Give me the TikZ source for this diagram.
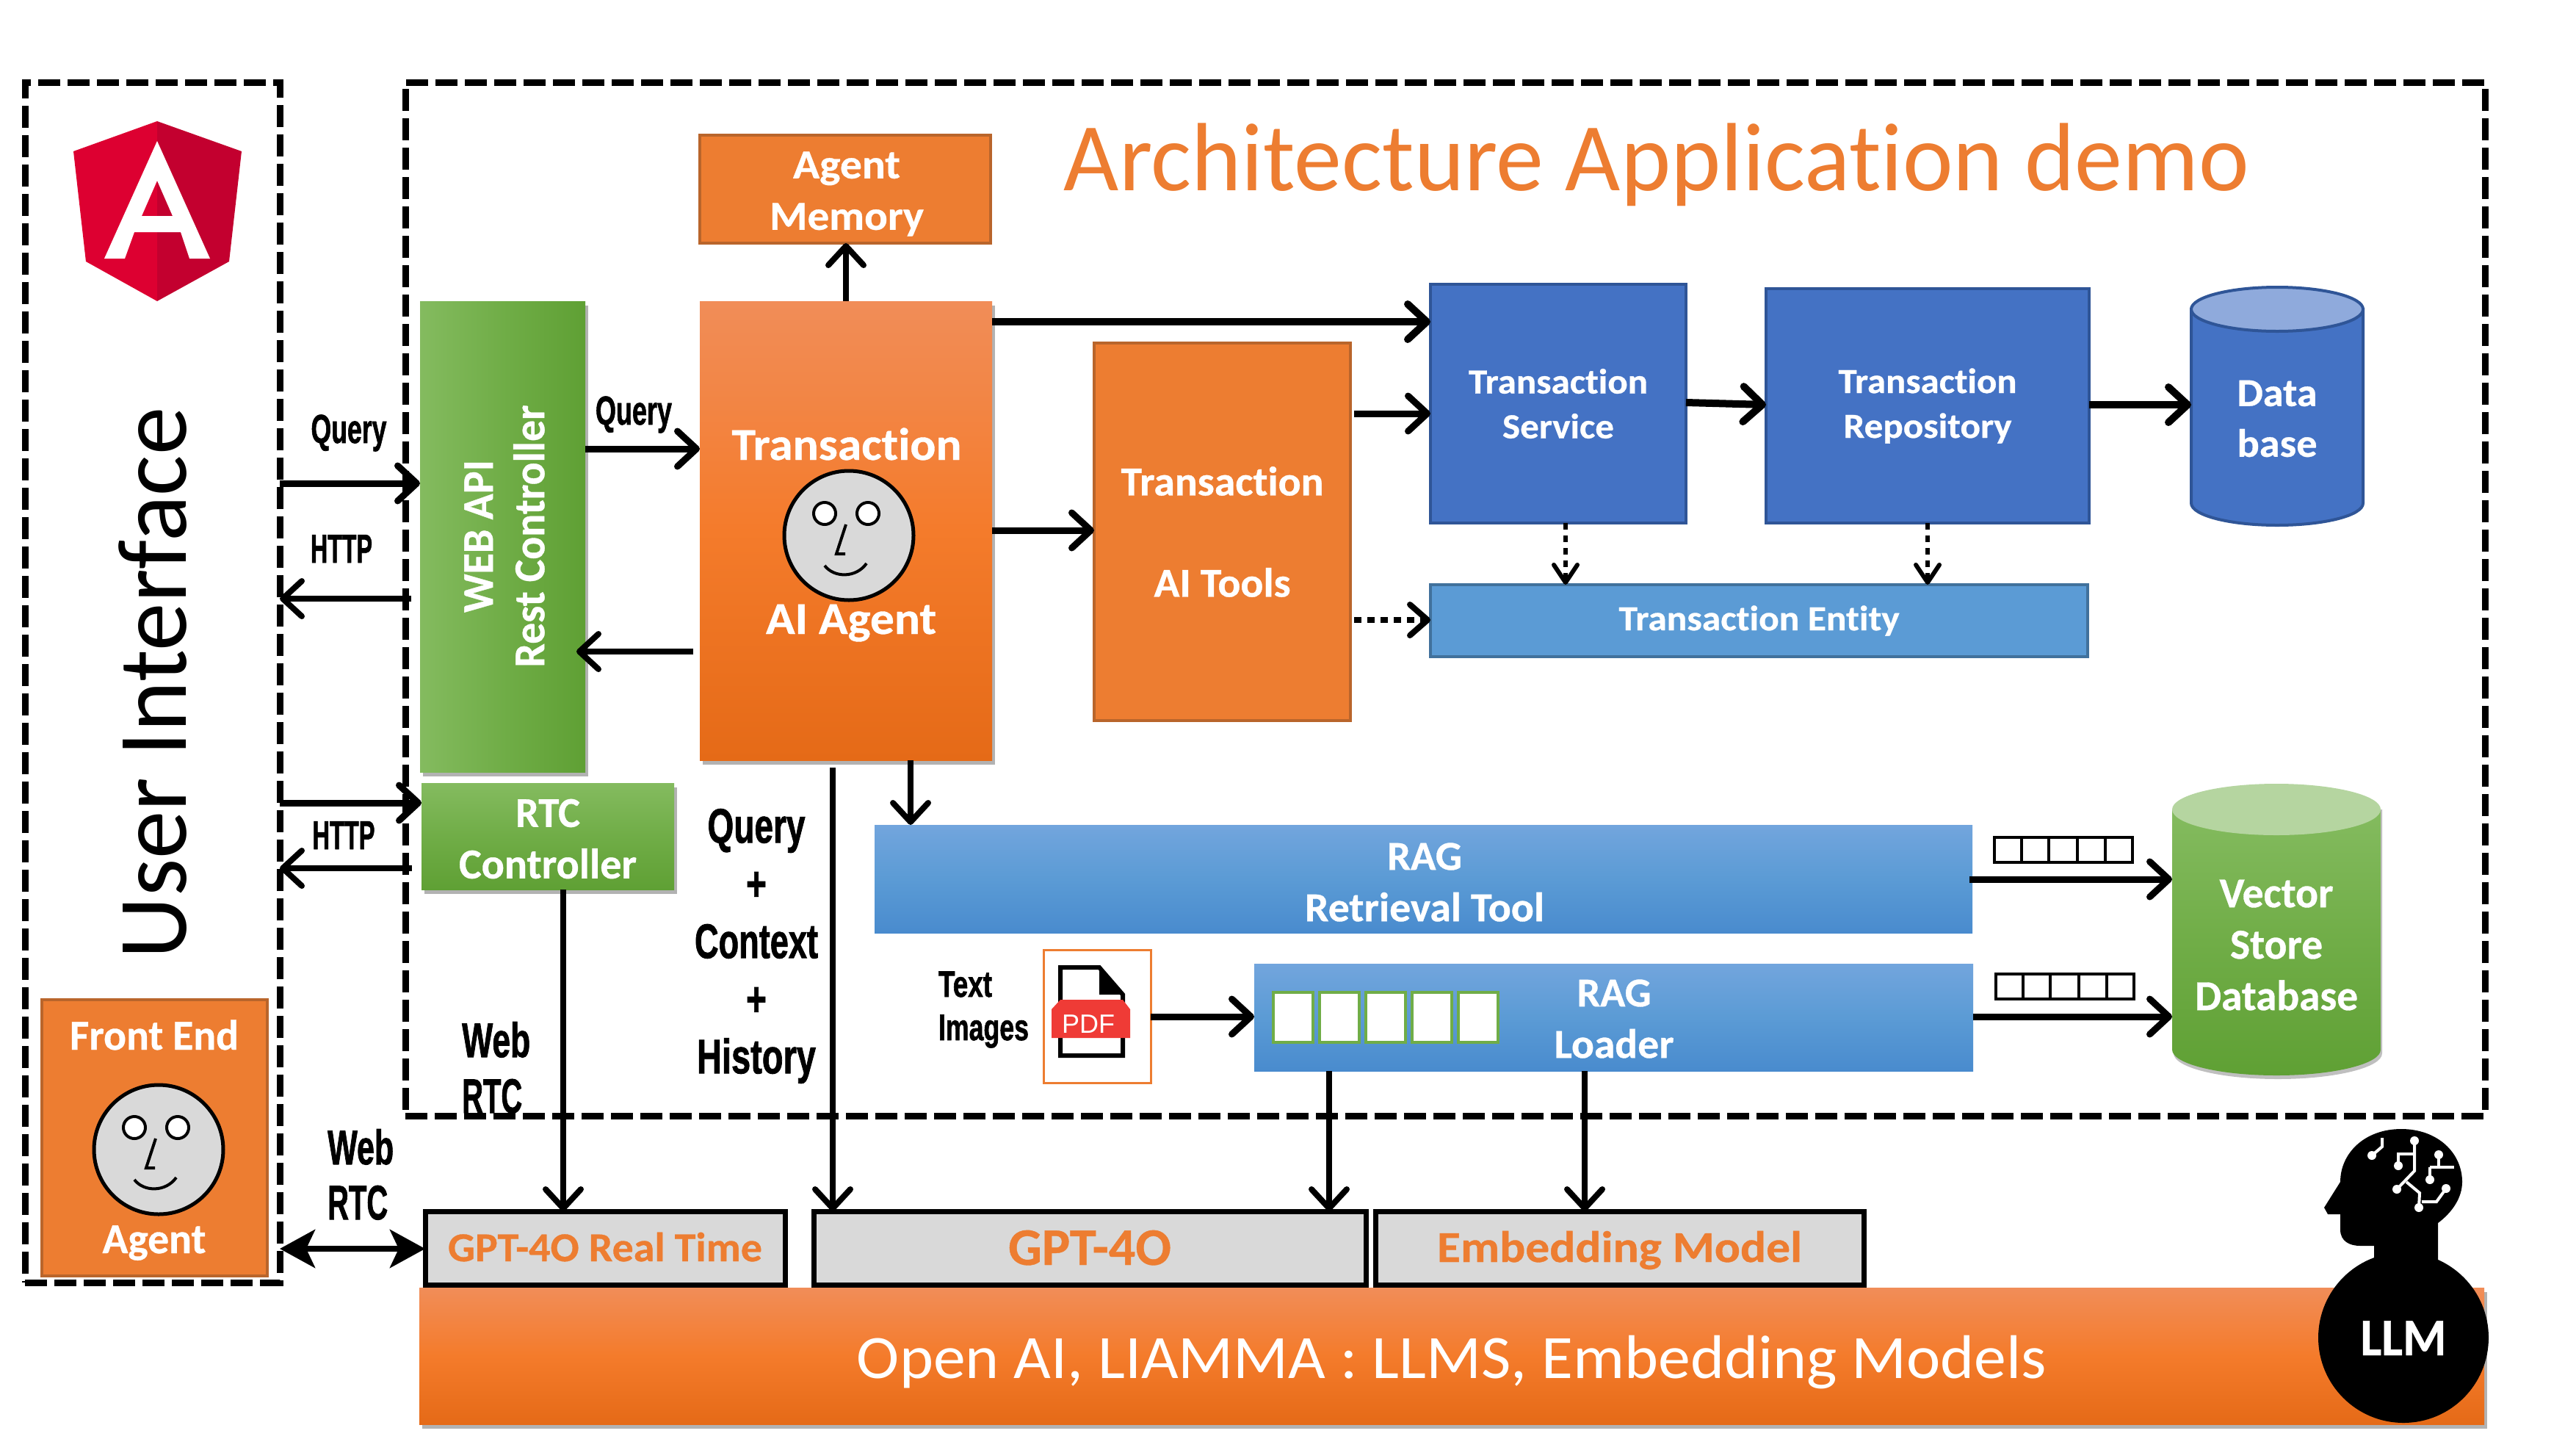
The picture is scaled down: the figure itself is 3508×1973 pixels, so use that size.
\documentclass[tikz,border=0pt]{standalone}
\usepackage{fontspec,graphicx}
\setmainfont{Carlito}[Ligatures=NoCommon,BoldFeatures={FakeBold=0.6}]
\newfontfamily\cond{Liberation Sans}[BoldFeatures={FakeBold=1.5}]
\usetikzlibrary{arrows.meta,shadows,calc}
\definecolor{ora}{HTML}{ED7D31}
\definecolor{orad}{HTML}{B9652B}
\definecolor{oT}{HTML}{F18D58}
\definecolor{oM}{HTML}{F47B2B}
\definecolor{oB}{HTML}{E56A17}
\definecolor{blu}{HTML}{4472C4}
\definecolor{blud}{HTML}{2F5597}
\definecolor{lblu}{HTML}{5B9BD5}
\definecolor{lblud}{HTML}{41719C}
\definecolor{gT}{HTML}{84BB5F}
\definecolor{gM}{HTML}{70AD47}
\definecolor{gB}{HTML}{5FA034}
\definecolor{bT}{HTML}{72A5DD}
\definecolor{bM}{HTML}{5B9BD5}
\definecolor{bB}{HTML}{498BCE}
\definecolor{faceg}{HTML}{D9D9D9}
\newcommand\Lw[2]{\resizebox{#1pt}{\height}{#2}}
\newcommand\Fs[2]{\fontsize{#1}{#2}\selectfont}
\tikzset{
  shad/.style={drop shadow={shadow xshift=4pt,shadow yshift=-6pt,opacity=.3,fill=black}},
  boxb/.style={inner sep=0pt,outer sep=0pt,anchor=north west,align=center,text=white},
  plainora/.style={boxb,fill=ora,draw=orad,line width=4pt},
  plainblu/.style={boxb,fill=blu,draw=blud,line width=4pt},
  gradora/.style={boxb,top color=oT,bottom color=oB,middle color=oM,shad},
  gradblu/.style={boxb,top color=bT,bottom color=bB,middle color=bM},
  gpt/.style={boxb,fill=faceg,draw=black,line width=7pt,text=ora,text depth=0pt},
  dashbox/.style={inner sep=0pt,outer sep=0pt,anchor=north west,draw=black,line width=9pt,dash pattern=on 30pt off 10pt},
  lbl/.style={inner sep=0pt,outer sep=0pt,anchor=base,text=black,font=\cond\bfseries\Fs{55}{60}},
  wlbl/.style={inner sep=0pt,outer sep=0pt,anchor=base,text=white,font=\bfseries\Fs{58}{60}},
  tbox/.style={inner sep=0pt,outer sep=0pt,text=white,align=center},
  arr/.style={draw=black,line width=9pt,-{Straight Barb[length=26pt,width=48pt,round]}},
  arrs/.style={draw=black,line width=6pt,dash pattern=on 9pt off 8pt,-{Straight Barb[length=24pt,width=32pt,round]}},
  arrd/.style={draw=black,line width=8pt,dash pattern=on 10pt off 8pt,-{Straight Barb[length=24pt,width=42pt,round]}},
  pics/agentface/.style={code={
    \draw[line width=5pt,fill=faceg] (0,0) circle[radius=88];
    \draw[line width=4pt,fill=white] (-33,-30) circle[radius=15] (26,-30) circle[radius=15];
    \draw[line width=4pt] (-4,-15) -- (-17,25) -- (-5,25);
    \draw[line width=4pt] (-33,41) .. controls (-20,58) and (10,58) .. (24,38);
  }},
}
\begin{document}
\begin{tikzpicture}[x=1pt,y=-1pt]
\useasboundingbox (0,0) rectangle (3508,1973);
\fill[white] (0,0) rectangle (3508,1973);
% containers
\node[dashbox,minimum width=347pt,minimum height=1634pt] (ui) at (34,112) {};
\node[dashbox,minimum width=2832pt,minimum height=1407pt] (main) at (552,112) {};
% Angular logo
\fill[fill={rgb,255:red,221;green,0;blue,49}] (214,165) -- (100,206) -- (117,356) -- (214,410) -- cycle;
\fill[fill={rgb,255:red,195;green,0;blue,47}] (214,165) -- (329,206) -- (312,356) -- (214,410) -- cycle;
\fill[white,even odd rule] (214,192) -- (142,352) -- (170,352) -- (183,316) -- (246,316) -- (258,352) -- (286,352) -- cycle (214,246) -- (193,294) -- (235,294) -- cycle;
\node[inner sep=0pt,anchor=base,rotate=90,font=\Fs{134}{140}] (uitxt) at (253,930) {\Lw{750}{User Interface}};
% front end
\node[plainora,minimum width=307pt,minimum height=376pt] (fe) at (57,1361) {};
\node[wlbl] (fet) at (210,1429) {\Lw{230}{Front End}};
\node[wlbl] (fea) at (210,1706) {\Lw{141}{Agent}};
\pic at (216,1565) {agentface};
% title
\node[inner sep=0pt,anchor=base,text=ora,font=\Fs{132}{140}] (title) at (2256,259) {\Lw{1614}{Architecture Application demo}};
% agent memory
\node[plainora,minimum width=396pt,minimum height=147pt] (mem) at (953,184) {};
\node[tbox,font=\bfseries\Fs{56}{70}] (memt) at (1153,264) {\Lw{146}{Agent}\\\Lw{210}{Memory}};
% web api
\node[boxb,left color=gT,right color=gB,middle color=gM,shad,minimum width=225pt,minimum height=641pt] (web) at (572,410) {};
\node[tbox,rotate=90,font=\bfseries\Fs{60}{70}] (webt) at (687,730) {\Lw{208}{WEB API}\\\Lw{357}{Rest Controller}};
% rtc
\node[boxb,top color=gT,bottom color=gB,middle color=gM,shad,minimum width=344pt,minimum height=145pt] (rtc) at (574,1066) {};
\node[tbox,font=\bfseries\Fs{58}{70}] (rtct) at (746,1142) {\Lw{88}{RTC}\\\Lw{242}{Controller}};
% transaction agent
\node[gradora,minimum width=398pt,minimum height=625pt] (agent) at (953,410) {};
\node[wlbl,font=\bfseries\Fs{62}{60}] (agt) at (1153,626) {\Lw{313}{Transaction}};
\node[wlbl,font=\bfseries\Fs{62}{60}] (aga) at (1159,863) {\Lw{232}{AI Agent}};
\pic at (1156,729) {agentface};
% tools
\node[plainora,minimum width=349pt,minimum height=514pt,font=\bfseries\Fs{56}{70}] (tools) at (1490,467) {\Lw{276}{Transaction}\\[68pt]\Lw{186}{AI Tools}};
% service
\node[plainblu,minimum width=348pt,minimum height=325pt,font=\bfseries\Fs{48}{61}] (serv) at (1948,387) {\Lw{244}{Transaction}\\\Lw{152}{Service}};
\node[plainblu,minimum width=440pt,minimum height=319pt,font=\bfseries\Fs{48}{61}] (repo) at (2405,393) {\Lw{243}{Transaction}\\\Lw{229}{Repository}};
\node[boxb,fill=lblu,draw=lblud,line width=4pt,minimum width=895pt,minimum height=98pt,font=\bfseries\Fs{48}{61}] (ent) at (1948,796) {\Lw{382}{Transaction Entity}};
% database
\filldraw[fill=blu,draw=blud,line width=4pt] (2984,421) -- (2984,685) arc[start angle=180,end angle=0,x radius=117,y radius=30] -- (3218,421) -- cycle;
\filldraw[fill=blu!60!white,draw=blud,line width=4pt] (3101,421) ellipse[x radius=117,y radius=30];
\node[inner sep=0pt,outer sep=0pt,anchor=north west,text=white,align=center,minimum width=234pt,minimum height=326pt,font=\bfseries\Fs{54}{69}] (db) at (2984,407) {\Lw{109}{Data}\\\Lw{109}{base}};
% RAG
\node[gradblu,minimum width=1495pt,minimum height=147pt] (ragr) at (1191,1123) {};
\node[tbox,font=\bfseries\Fs{56}{70}] (ragrt) at (1940,1201) {\Lw{102}{RAG}\\\Lw{326}{Retrieval Tool}};
\node[gradblu,minimum width=979pt,minimum height=146pt] (ragl) at (1708,1312) {};
\node[tbox,font=\bfseries\Fs{56}{70}] (raglt) at (2198,1387) {\Lw{101}{RAG}\\\Lw{163}{Loader}};
\foreach \nm/\xa in {c1/1734,c2/1797,c3/1860,c4/1923,c5/1986}{
  \node[inner sep=0pt,outer sep=0pt,anchor=north west,draw=gM,fill=white,line width=4pt,minimum width=54pt,minimum height=68pt] (\nm) at (\xa,1351) {};
}
% pdf
\node[inner sep=0pt,outer sep=0pt,anchor=north west,draw=ora,fill=white,line width=3pt,minimum width=146pt,minimum height=181pt] (pdf) at (1421,1293) {};
\begin{scope}[shift={(-11,-11)}]
\draw[line width=6pt,line join=miter] (1455,1328) -- (1508,1328) -- (1540,1365) -- (1540,1448) -- (1455,1448) -- cycle;
\fill[black] (1508,1328) -- (1540,1365) -- (1508,1365) -- cycle;
\fill[fill={rgb,255:red,239;green,59;blue,54}] (1443,1385) -- (1455,1372) -- (1540,1372) -- (1550,1385) -- (1550,1424) -- (1443,1424) -- cycle;
\node[inner sep=0pt,anchor=base,text=white,font=\cond\Fs{36}{40}] (pdft) at (1493,1417) {\Lw{72}{PDF}};
\end{scope}
\node[lbl,anchor=base west,font=\cond\bfseries\Fs{50}{60}] (ltxt) at (1278,1357) {\Lw{73}{Text}};
\node[lbl,anchor=base west,font=\cond\bfseries\Fs{50}{60}] (limg) at (1278,1416) {\Lw{123}{Images}};
% vector chips
\foreach \nm/\xa/\ya in {chipa/2716/1140,chipb/2718/1326}{
  \node[inner sep=0pt,outer sep=0pt,anchor=north west,draw=black,line width=4pt,minimum width=188pt,minimum height=34pt] (\nm) at (\xa,\ya) {};
  \foreach \k in {37,74,113,151}{\draw[line width=4pt] ($(\nm.north west)+(\k,0)$) -- ($(\nm.south west)+(\k,0)$);}
}
% vector db
\fill[black,opacity=.25] (2960,1102) -- (2960,1434) arc[start angle=180,end angle=0,x radius=142,y radius=35] -- (3244,1102) -- cycle;
\path[top color=gT,bottom color=gB,middle color=gM] (2958,1102) -- (2958,1429) arc[start angle=180,end angle=0,x radius=142,y radius=35] -- (3242,1102) -- cycle;
\fill[fill={rgb,255:red,181;green,213;blue,160}] (3100,1102) ellipse[x radius=142,y radius=35];
\node[inner sep=0pt,outer sep=0pt,anchor=north west,text=white,align=center,minimum width=284pt,minimum height=397pt,font=\bfseries\Fs{58}{70}] (vdb) at (2958,1088) {\Lw{155}{Vector}\\\Lw{126}{Store}\\\Lw{222}{Database}};
% models
\node[gradora,minimum width=2812pt,minimum height=186pt] (band) at (571,1753) {};
\node[tbox,font=\Fs{84}{90}] (bandt) at ($(band.center)+(0,9)$) {\Lw{1620}{Open AI, LIAMMA : LLMS, Embedding Models}};
\node[gpt,minimum width=490pt,minimum height=100pt,font=\bfseries\Fs{56}{60},text height=36pt] (g1) at (579,1649) {\Lw{428}{GPT-4O Real Time}};
\node[gpt,minimum width=752pt,minimum height=100pt,font=\bfseries\Fs{72}{80},text height=46pt] (g2) at (1108,1649) {\Lw{222}{GPT-4O}};
\node[gpt,minimum width=665pt,minimum height=100pt,font=\bfseries\Fs{60}{70},text height=38pt] (g3) at (1873,1649) {\Lw{497}{Embedding Model}};
% llm icon
\begin{scope}[shift={(-10,-10)}]
\fill[black] (3330,1725) -- (3330,1675) .. controls (3350,1660) and (3363,1640) .. (3363,1619)
  .. controls (3363,1580) and (3330,1547) .. (3280,1547) .. controls (3230,1547) and (3197,1580) .. (3197,1619)
  -- (3175,1654) -- (3180,1663) -- (3197,1663) -- (3197,1684) .. controls (3197,1700) and (3210,1706) .. (3224,1706)
  -- (3243,1706) -- (3243,1725) -- cycle;
\fill[black] (3283,1831) circle[radius=116];
\node[inner sep=0pt,anchor=base,text=white,font=\bfseries\Fs{72}{80}] (llm) at (3283,1855) {\Lw{117}{LLM}};
\begin{scope}[white,line width=4pt]
\draw (3240,1583) -- (3254,1571) -- (3254,1559);
\draw (3298,1563) -- (3298,1604) -- (3274,1629);
\draw (3298,1581) -- (3276,1581) -- (3276,1597);
\draw (3331,1582) -- (3331,1599) (3319,1599) -- (3352,1599) (3319,1599) -- (3319,1616);
\draw (3287,1619) -- (3305,1634) -- (3304,1654) (3308,1646) -- (3328,1646) -- (3341,1628);
\fill (3240,1583) circle[radius=6] (3298,1563) circle[radius=6] (3274,1629) circle[radius=6] (3276,1597) circle[radius=6] (3331,1582) circle[radius=6] (3319,1616) circle[radius=6] (3304,1654) circle[radius=6] (3341,1628) circle[radius=6];
\end{scope}
\end{scope}
% labels
\node[lbl] (q1) at (475,603) {\Lw{103}{Query}};
\node[lbl] (h1) at (465,766) {\Lw{84}{HTTP}};
\node[lbl] (q2) at (863,578) {\Lw{104}{Query}};
\node[lbl] (h2) at (468,1156) {\Lw{85}{HTTP}};
\node[inner sep=0pt,align=center,font=\cond\bfseries\Fs{66}{78.5}] (qch) at (1030,1288) {\Lw{133}{Query}\\\Lw{28}{+}\\\Lw{168}{Context}\\\Lw{28}{+}\\\Lw{162}{History}};
\node[inner sep=0pt,align=left,anchor=north west,font=\cond\bfseries\Fs{66}{76}] (wr1) at (629,1391) {\Lw{93}{Web}\\\Lw{82}{RTC}};
\node[inner sep=0pt,align=left,anchor=north west,font=\cond\bfseries\Fs{66}{75}] (wr2) at (446,1537) {\Lw{90}{Web}\\\Lw{82}{RTC}};
% connectors
\draw[arr] (ui.east |- 0,658) -- (web.west |- 0,658);
\draw[arr,line width=8pt] ($(web.west |- 0,815)+(-12,0)$) -- (ui.east |- 0,815);
\draw[arr] (web.east |- 0,611) -- (agent.west |- 0,611);
\draw[arr,line width=8pt] ($(agent.west |- 0,887)+(-9,0)$) -- ($(web.east |- 0,887)+(-12,0)$);
\draw[arr] (ui.east |- 0,1093) -- (rtc.west |- 0,1093);
\draw[arr,line width=8pt] ($(rtc.west |- 0,1182)+(-13,0)$) -- (ui.east |- 0,1182);
\draw[draw=black,line width=8pt,{Stealth[length=48pt,width=52pt,inset=12pt]}-{Stealth[length=48pt,width=52pt,inset=12pt]}] (ui.east |- 0,1700) -- (g1.west |- 0,1700);
\draw[arr,line width=8pt] (rtc.south -| 767,0) -- (g1.north -| 767,0);
\draw[arr,line width=8pt] ($(agent.south -| 1134,0)+(0,10)$) -- (g2.north -| 1134,0);
\draw[arr,line width=8pt] (agent.south -| 1240,0) -- (ragr.north -| 1240,0);
\draw[arr,line width=8pt] (agent.north -| 1152,0) -- (mem.south -| 1152,0);
\draw[arr,line width=10pt] (agent.east |- 0,438) -- (serv.west |- 0,438);
\draw[arr] ($(tools.east |- 0,563)+(5,0)$) -- (serv.west |- 0,563);
\draw[arr] (agent.east |- 0,722) -- (tools.west |- 0,722);
\draw[arrd] ($(tools.east |- 0,844)+(5,0)$) -- (ent.west |- 0,844);
\draw[arr,line width=10pt] (serv.east |- 0,548) -- (repo.west |- 0,551);
\draw[arr,line width=10pt] (repo.east |- 0,551) -- (db.west |- 0,551);
\draw[arrs] (serv.south -| 2132,0) -- (ent.north -| 2132,0);
\draw[arrs] (repo.south -| 2625,0) -- (ent.north -| 2625,0);
\draw[arr,line width=8pt] (ragl.south -| 1810,0) -- (g2.north -| 1810,0);
\draw[arr,line width=8pt] (ragl.south -| 2158,0) -- (g3.north -| 2158,0);
\draw[arr] (pdf.east |- 0,1384) -- (ragl.west |- 0,1384);
\draw[arr] ($(ragr.east |- 0,1197)+(-4,0)$) -- (vdb.west |- 0,1197);
\draw[arr] (ragl.east |- 0,1384) -- (vdb.west |- 0,1384);
\end{tikzpicture}
\end{document}
